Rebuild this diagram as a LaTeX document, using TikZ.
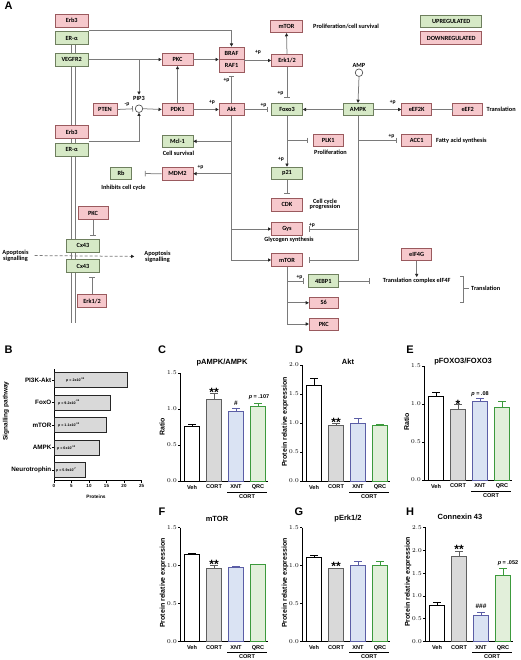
\documentclass[tikz,border=0pt]{standalone}
\usepackage{fontspec}
\setmainfont{Liberation Sans}
\newfontfamily\carl{Carlito}
\usetikzlibrary{arrows.meta,backgrounds}
\newcommand\pwf{\carl\bfseries\fontsize{6.3}{7}\selectfont}
\newcommand\plf{\carl\bfseries\fontsize{5.6}{6}\selectfont}
\newcommand\tkf{\bfseries\fontsize{5.6}{6}\selectfont}
\newcommand\titf{\bfseries\fontsize{7.5}{8}\selectfont}
\newcommand\panf{\bfseries\fontsize{11}{12}\selectfont}
\newcommand\ylf{\bfseries\fontsize{7}{8}\selectfont}
\newcommand\pvf{\bfseries\fontsize{3.6}{4}\selectfont}
\definecolor{upg}{HTML}{D6E9C6}
\definecolor{upd}{HTML}{6E7F5E}
\definecolor{dng}{HTML}{F6C8CC}
\definecolor{dnd}{HTML}{9A5A5E}
\definecolor{lc}{HTML}{7A7A7A}
\definecolor{cortf}{HTML}{D9D9D9}
\definecolor{cortd}{HTML}{5F5F5F}
\definecolor{xntf}{HTML}{DAE3F3}
\definecolor{xntd}{HTML}{5B5EA6}
\definecolor{qrcf}{HTML}{E2EFDA}
\definecolor{qrcd}{HTML}{3C9A3C}
\newcommand\mybar[7]{%
  \pgfmathsetmacro\mytop{#2-(#4)*(#3)}%
  \pgfmathsetmacro\myerr{\mytop-(#5)*(#3)}%
  \draw[line width=0.9pt, fill=#6, draw=#7] (#1-7.5,#2) rectangle (#1+7.5,\mytop);
  \draw[line width=0.9pt, draw=#7] (#1,\mytop) -- (#1,\myerr) (#1-4,\myerr) -- (#1+4,\myerr);
}
\newcommand\myaxis[5]{%
  \draw[line width=0.9pt] (#1,#2-#4*#3) -- (#1,#2) -- (#5,#2);
  \foreach \v in {0,0.5,...,#4} {
    \draw[line width=0.9pt] (#1,#2-\v*#3) -- ++(-2.5,0);
    \node[font=\tkf, inner sep=0.5pt, anchor=east] at (#1-2.5,#2-\v*#3) {\pgfmathprintnumber[fixed,fixed zerofill,precision=1]{\v}};
  }
}
\newcommand\mylabels[2]{%
  \node[font=\tkf, inner sep=0pt] at (#1+12,#2+6) {Veh};
  \node[font=\tkf, inner sep=0pt] at (#1+34,#2+6) {CORT};
  \node[font=\tkf, inner sep=0pt] at (#1+56,#2+6) {XNT};
  \node[font=\tkf, inner sep=0pt] at (#1+78,#2+6) {QRC};
  \draw[line width=0.6pt] (#1+47,#2+10.8) -- (#1+87,#2+10.8);
  \node[font=\tkf, inner sep=0pt] at (#1+67,#2+15.3) {CORT};
}
\begin{document}
\begin{tikzpicture}[x=1pt,y=-1pt,
  gbox/.style={draw=upd, fill=upg, line width=0.6pt, minimum width=30pt, minimum height=12.5pt, inner sep=0pt, font=\pwf},
  pbox/.style={gbox, draw=dnd, fill=dng},
  wide/.style={minimum width=33pt, minimum height=12.8pt},
  conn/.style={draw=lc, line width=0.75pt},
  arr/.style={conn, -{Triangle[length=3.2pt,width=3.2pt,color=black!85]}},
  inh/.style={conn, -{Bar[width=5.5pt,line width=0.75pt]}},
  txt/.style={font=\pwf, inner sep=1pt},
  pl/.style={font=\plf, inner sep=0.5pt},
  circ/.style={circle, draw=black!75, fill=white, line width=0.6pt, minimum size=7.5pt, inner sep=0pt},
  pan/.style={font=\panf, inner sep=0pt},
  tit/.style={font=\titf, inner sep=0pt},
  yl/.style={font=\ylf, inner sep=0pt, rotate=90},
  ann/.style={font=\bfseries\fontsize{6.5}{7}\selectfont, inner sep=0pt},
  star/.style={font=\bfseries\fontsize{12}{12}\selectfont, inner sep=0pt}
]
\useasboundingbox (0,0) rectangle (520,660);

% ================= Panel A =================
\node[pan] (lA) at (8.5,6) {A};

\node[pbox, wide] (erbA) at (71.7,20.5) {Erb3};
\node[gbox, wide] (eraA) at (71.7,38) {ER-α};
\node[gbox, wide] (vegfr) at (71.7,59.5) {VEGFR2};
\node[pbox, wide] (erbB) at (71.7,132) {Erb3};
\node[gbox, wide] (eraB) at (71.7,149.5) {ER-α};
\node[gbox, wide] (cxA) at (83,245.5) {Cx43};
\node[gbox, wide] (cxB) at (83,266) {Cx43};
\node[pbox] (pkcL) at (93,213) {PKC};
\node[pbox, minimum width=29pt] (erkL) at (92,301) {Erk1/2};
\coordinate (dblend) at (71.7,323);
\begin{pgfonlayer}{background}
\fill[white] (0,0) rectangle (520,660);
\draw[conn, line width=0.6pt] (eraA.south) -- (dblend);
\draw[conn, line width=0.6pt] ([xshift=3.3pt]eraA.south) -- ([xshift=3.3pt]dblend);
\end{pgfonlayer}

\node[pbox, minimum width=24pt] (pten) at (105,109.5) {PTEN};
\node[circ] (pip) at (139,108.7) {};
\node[txt] (piplbl) at (139,98) {PIP3};
\node[pbox, minimum width=31pt] (pdk) at (177.5,109.5) {PDK1};
\node[pbox, minimum width=31pt] (pkc) at (177.5,59.5) {PKC};
\node[pbox, minimum width=25pt] (braf) at (231.5,53.2) {BRAF};
\node[pbox, minimum width=25pt] (raf) at (231.5,65.7) {RAF1};
\node[pbox, minimum width=25pt] (akt) at (231.5,109.5) {Akt};
\node[pbox, minimum width=31pt, minimum height=11.5pt] (erk) at (287,60.5) {Erk1/2};
\node[pbox, minimum width=32pt] (mtorT) at (286.5,26.5) {mTOR};
\node[gbox, minimum width=31pt] (foxo) at (287,109.5) {Foxo3};
\node[gbox] (ampk) at (358,109.5) {AMPK};
\node[circ] (amp) at (359,72.7) {};
\node[txt] (amplbl) at (359,65) {AMP};
\node[pbox] (eef2k) at (416.7,109.5) {eEF2K};
\node[pbox] (eef2) at (467.7,109.5) {eEF2};
\node[pbox] (acc) at (416.7,140.5) {ACC1};
\node[pbox] (plk) at (328.3,140.5) {PLK1};
\node[gbox, minimum width=31pt] (mcl) at (177.5,141.3) {Mcl-1};
\node[pbox, minimum width=31pt] (mdm) at (177.5,173.7) {MDM2};
\node[gbox, minimum width=21pt] (rb) at (121,173.5) {Rb};
\node[gbox, minimum width=31pt] (p21) at (287,173.3) {p21};
\node[pbox, minimum width=31pt] (cdk) at (287,204.7) {CDK};
\node[pbox, minimum width=31pt] (gys) at (287,229) {Gys};
\node[pbox, minimum width=31pt] (mtorB) at (287,260) {mTOR};
\node[gbox] (ebp) at (323.3,281) {4EBP1};
\node[pbox, minimum width=29pt, minimum height=11pt] (s6) at (323.7,302.8) {S6};
\node[pbox, minimum width=29pt, minimum height=11.7pt] (pkcB) at (323.7,324) {PKC};
\node[pbox] (eif) at (416.7,254.5) {eIF4G};
\node[gbox, minimum width=61pt, minimum height=11.7pt] (legU) at (451.2,21) {UPREGULATED};
\node[pbox, minimum width=61pt, minimum height=12.6pt] (legD) at (451.2,38) {DOWNREGULATED};

\node[txt, anchor=west] (t1) at (312,26.5) {Proliferation/cell survival};
\node[txt, anchor=west] (t2) at (485.5,109.5) {Translation};
\node[txt, anchor=west] (t3) at (435,140.5) {Fatty acid synthesis};
\node[txt] (t4) at (178.5,153.5) {Cell survival};
\node[txt] (t5) at (330.5,152.7) {Proliferation};
\node[txt] (t6) at (123.5,187.7) {Inhibits cell cycle};
\node[txt, align=center] (t7) at (325,204.3) {Cell cycle\\[-1.2pt]progression};
\node[txt] (t8) at (289,239.5) {Glycogen synthesis};
\node[txt] (tc) at (416.7,281) {Translation complex eIF4F};
\node[txt, anchor=west] (t9) at (470,288.8) {Translation};
\node[txt, align=center] (apoL) at (15.5,255.5) {Apoptosis\\[-1.2pt]signalling};
\node[txt, align=center] (apoR) at (157.5,256.5) {Apoptosis\\[-1.2pt]signalling};

% connectors
\draw[arr] ([yshift=-3pt]erbA.south east) -| (braf.north);
\draw[arr] (vegfr.east) -- (pkc.west);
\draw[arr] (vegfr.east -| pip) -- (piplbl.north);
\draw[arr] ([yshift=-2.5pt]erbB.south east) -| (pip.south);
\draw[inh, shorten >=2pt] (pten.east) -- (pip.west);
\draw[arr] (pip.east) -- (pdk.west);
\draw[arr] (pdk.north) -- (pkc.south);
\draw[arr] (pkc.east) -- (pkc.east -| raf.west);
\draw[arr] (pdk.east) -- (akt.west);
\draw[inh, shorten >=4pt] (akt.north) -- (raf.south);
\draw[arr] (erk.west -| raf.east) -- (erk.west);
\draw[arr] (erk.north) -- (mtorT.south);
\draw[inh, shorten >=5pt] (erk.south) -- (foxo.north);
\draw[inh, shorten >=3.5pt] (akt.east) -- (foxo.west);
\draw[arr] (ampk.west) -- (foxo.east);
\draw[arr] (amp.south) -- (ampk.north);
\draw[arr] (ampk.east) -- (eef2k.west);
\draw[inh] (eef2k.east) -- (eef2.west);
\draw[inh, shorten >=6.5pt] (ampk.south) |- (mtorB.east);
\draw[inh, shorten >=4.5pt] (ampk.south |- acc) -- (acc.west);
\draw[inh, shorten >=6.5pt] (ampk.south |- gys) -- (gys.east);
\draw[arr] (foxo.south) -- (p21.north);
\draw[inh, shorten >=5pt] (foxo.south |- plk) -- (plk.west);
\draw[inh, shorten >=4pt] (p21.south) -- (cdk.north);
\draw[arr] (akt.south) |- (mtorB.west);
\draw[arr] (akt.south |- mcl) -- (mcl.east);
\draw[arr] (akt.south |- mdm) -- (mdm.east);
\draw[arr] (akt.south |- gys) -- (gys.west);
\draw[inh, shorten >=13pt] (mdm.west) -- (rb.east);
\draw[arr] (mtorB.south) |- (pkcB.west);
\draw[inh, shorten >=4pt] (mtorB.south |- ebp) -- (ebp.west);
\draw[arr] (mtorB.south |- s6) -- (s6.west);
\draw[inh, shorten >=12pt] (ebp.east) -- (tc.west);
\draw[arr] (eif.south) -- (tc.north);
\draw[conn] (460,276) -- (463,276) -- (463,302) -- (460,302);
\draw[conn] (463,288.8) -- (469,288.8);
\draw[inh, shorten >=3pt] (pkcL.south) -- (pkcL.south |- cxA.north);
\draw[inh, shorten >=4pt] (erkL.north) -- (erkL.north |- cxB.south);
\draw[conn, dash pattern=on 3pt off 2pt, -{Triangle[length=3.2pt,width=3.2pt,color=black!85]}, shorten <=5pt, shorten >=9pt] (apoL.east) -- (apoR.west);

% +p labels
\node[pl] at (258,52) {+p};
\node[pl] at (212,102.5) {+p};
\node[pl] at (226.5,80) {+p};
\node[pl] at (263.5,105) {+p};
\node[pl] at (280.5,93) {+p};
\node[pl] at (392.7,102) {+p};
\node[pl] at (391.5,136) {+p};
\node[pl] at (281,159) {+p};
\node[pl] at (200.5,167) {+p};
\node[pl] at (312,225) {+p};
\node[pl] at (299.5,277) {+p};
\node[pl] at (127,105) {-p};

% ================= Panel B =================
\node[pan] (lB) at (8.5,350) {B};
\draw[line width=0.8pt] (54,369) -- (54,480) -- (141.7,480);
\foreach \k in {0,5,...,25} {
  \draw[line width=0.8pt] (54+3.5*\k,480) -- ++(0,2.5);
  \node[font=\bfseries\fontsize{4.5}{5}\selectfont, inner sep=0pt] at (54+3.5*\k,486) {\k};
}
\foreach \cy/\v/\nm/\pm/\pe/\px in {380/21/PI3K-Akt/2/-15/66, 402.5/16/FoxO/9.2/-15/58, 425/15/mTOR/1.1/-13/58, 447.5/13/AMPK/6/-12/57, 470/9/Neurotrophin/5.9/-7/56} {
  \draw[line width=0.8pt, fill=cortf, draw=black!85] (54,\cy-7.5) rectangle (54+3.5*\v,\cy+7.5);
  \draw[line width=0.8pt] (54,\cy) -- ++(-2,0);
  \node[font=\bfseries\fontsize{6.3}{7}\selectfont, inner sep=0pt, anchor=east] at (51.5,\cy) {\nm};
  \node[font=\pvf, inner sep=0pt, anchor=west] at (\px,\cy) {\textit{p} = \pm x10\textsuperscript{\pe}};
}
\node[font=\bfseries\fontsize{4.8}{5}\selectfont, inner sep=0pt] (pB) at (96,496.5) {Proteins};
\node[yl, font=\bfseries\fontsize{6.5}{7}\selectfont] (ylB) at (6,411) {Signalling pathway};

% ================= Panel C =================
\node[pan] (lC) at (162,350) {C};
\node[tit] (tC) at (222,363) {pAMPK/AMPK};
\myaxis{180}{481}{72}{1.5}{268}
\mybar{192}{481}{72}{0.76}{0.03}{white}{black}
\mybar{214}{481}{72}{1.13}{0.08}{cortf}{cortd}
\mybar{236}{481}{72}{0.96}{0.05}{xntf}{xntd}
\mybar{258}{481}{72}{1.04}{0.04}{qrcf}{qrcd}
\mylabels{180}{481}
\node[yl] (ylC) at (162,427) {Ratio};
\node[star] at (214,392) {**};
\node[ann] at (236,403) {\#};
\node[ann, font=\bfseries\fontsize{5.5}{6}\selectfont] at (259,397) {\textit{p} = .107};

% ================= Panel D =================
\node[pan] (lD) at (299,350) {D};
\node[tit] (tD) at (348,362) {Akt};
\myaxis{302}{481}{58}{2.0}{390}
\mybar{314}{481}{58}{1.65}{0.12}{white}{black}
\mybar{336}{481}{58}{0.95}{0.05}{cortf}{cortd}
\mybar{358}{481}{58}{1.00}{0.08}{xntf}{xntd}
\mybar{380}{481}{58}{0.96}{0.01}{qrcf}{qrcd}
\mylabels{302}{481}
\node[yl] (ylD) at (285,422) {Protein relative expression};
\node[star] at (336,422) {**};

% ================= Panel E =================
\node[pan] (lE) at (410,350) {E};
\node[tit] (tE) at (463,362) {pFOXO3/FOXO3};
\myaxis{424}{480}{76}{1.5}{512}
\mybar{436}{480}{76}{1.10}{0.05}{white}{black}
\mybar{458}{480}{76}{0.93}{0.06}{cortf}{cortd}
\mybar{480}{480}{76}{1.03}{0.04}{xntf}{xntd}
\mybar{502}{480}{76}{0.96}{0.08}{qrcf}{qrcd}
\mylabels{424}{480}
\node[yl] (ylE) at (406.5,422) {Ratio};
\node[star] at (458,404) {*};
\node[ann, font=\bfseries\fontsize{5.5}{6}\selectfont] at (480,394) {\textit{p} = .08};

% ================= Panel F =================
\node[pan] (lF) at (162,511.7) {F};
\node[tit] (tF) at (217,519) {mTOR};
\myaxis{180}{641.7}{76}{1.5}{268}
\mybar{192}{641.7}{76}{1.15}{0.01}{white}{black}
\mybar{214}{641.7}{76}{0.97}{0.03}{cortf}{cortd}
\mybar{236}{641.7}{76}{0.98}{0.01}{xntf}{xntd}
\mybar{258}{641.7}{76}{1.01}{0.01}{qrcf}{qrcd}
\mylabels{180}{641.7}
\node[yl] (ylF) at (163,583) {Protein relative expression};
\node[star] at (214,564) {**};

% ================= Panel G =================
\node[pan] (lG) at (299,511.7) {G};
\node[tit] (tG) at (348,519) {pErk1/2};
\myaxis{302}{641.7}{76}{1.5}{390}
\mybar{314}{641.7}{76}{1.11}{0.03}{white}{black}
\mybar{336}{641.7}{76}{0.96}{0.01}{cortf}{cortd}
\mybar{358}{641.7}{76}{1.00}{0.05}{xntf}{xntd}
\mybar{380}{641.7}{76}{1.00}{0.06}{qrcf}{qrcd}
\mylabels{302}{641.7}
\node[yl] (ylG) at (285,583) {Protein relative expression};
\node[star] at (336,566) {**};

% ================= Panel H =================
\node[pan] (lH) at (410,511.7) {H};
\node[tit] (tH) at (460,517) {Connexin 43};
\myaxis{425}{641.7}{45.7}{2.5}{513}
\mybar{437}{641.7}{45.7}{0.80}{0.05}{white}{black}
\mybar{459}{641.7}{45.7}{1.87}{0.10}{cortf}{cortd}
\mybar{481}{641.7}{45.7}{0.58}{0.07}{xntf}{xntd}
\mybar{503}{641.7}{45.7}{1.46}{0.15}{qrcf}{qrcd}
\mylabels{425}{641.7}
\node[yl] (ylH) at (408,582) {Protein relative expression};
\node[star] at (459,549) {**};
\node[ann] at (481,606) {\#\#\#};
\node[ann, font=\bfseries\fontsize{5.5}{6}\selectfont] at (508,563) {\textit{p} = .052};
\end{tikzpicture}
\end{document}
